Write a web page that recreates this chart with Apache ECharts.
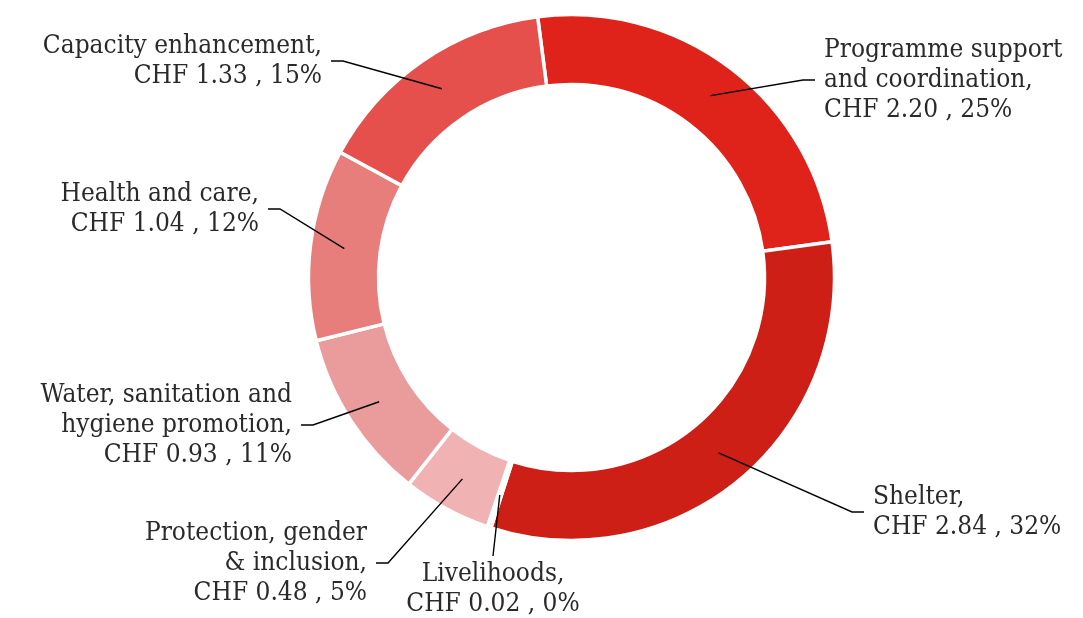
<!DOCTYPE html>
<html>
<head>
<meta charset="utf-8">
<script src="https://cdn.jsdelivr.net/npm/echarts@6/dist/echarts.min.js"></script>
<style>
  html, body { margin: 0; padding: 0; background: #ffffff; }
  #chart { width: 1083px; height: 618px; }
</style>
</head>
<body>
<div id="chart"></div>
<script>
// Budget breakdown by area of focus (CHF millions)
const categories = [
  'Programme support and coordination',
  'Shelter',
  'Livelihoods',
  'Protection, gender & inclusion',
  'Water, sanitation and hygiene promotion',
  'Health and care',
  'Capacity enhancement'
];
// Category names as they are broken over lines in the labels
const labelNames = [
  ['Programme support', 'and coordination,'],
  ['Shelter,'],
  ['Livelihoods,'],
  ['Protection, gender', '& inclusion,'],
  ['Water, sanitation and', 'hygiene promotion,'],
  ['Health and care,'],
  ['Capacity enhancement,']
];
const amounts = [2.20, 2.84, 0.02, 0.48, 0.93, 1.04, 1.33];

// Slice colours
const sliceColors = ['#df231a', '#cd1f16', '#c81d15', '#f0b2b2', '#ea9b9b', '#e87e7c', '#e54f4c'];

// Label placement: elbow of each leader line and the side the text sits on
const labelAnchors = [
  { elbow: [803, 80],  side: 'right' },
  { elbow: [852, 512], side: 'right' },
  { elbow: [493, 556], side: 'below' },
  { elbow: [388, 563], side: 'left' },
  { elbow: [313, 425], side: 'left' },
  { elbow: [280, 209], side: 'left' },
  { elbow: [343, 61],  side: 'left' }
];

const CENTER = [571.5, 277.5];
const START_ANGLE = 97.4;
const LINE_START_R = 229;   // leader lines begin mid-ring
const TAIL = 12;
const GAP = 9;

const total = amounts.reduce((s, v) => s + v, 0);

const ringData = categories.map((name, i) => ({
  name: name,
  value: amounts[i],
  itemStyle: { color: sliceColors[i] }
}));

const labelData = categories.map((name, i) => ({
  name: name,
  value: amounts[i]
}));

// Start point of a leader line, on the mid-angle of its slice
function midPoint(i) {
  let before = 0;
  for (let k = 0; k < i; k++) before += amounts[k];
  const mid = before + amounts[i] / 2;
  const ang = (START_ANGLE - mid / total * 360) * Math.PI / 180;
  return [CENTER[0] + LINE_START_R * Math.cos(ang), CENTER[1] - LINE_START_R * Math.sin(ang)];
}

const chart = echarts.init(document.getElementById('chart'), null, { renderer: 'canvas' });

chart.setOption({
  backgroundColor: '#ffffff',
  animation: false,
  series: [
    {
      type: 'pie',
      z: 2,
      center: CENTER,
      radius: [193, 263],
      startAngle: START_ANGLE,
      clockwise: true,
      silent: true,
      label: { show: false },
      labelLine: { show: false },
      itemStyle: { borderColor: '#ffffff', borderWidth: 3.5 },
      data: ringData
    },
    {
      // transparent overlay carrying the labels and leader lines
      type: 'pie',
      z: 6,
      center: CENTER,
      radius: [0, LINE_START_R],
      startAngle: START_ANGLE,
      clockwise: true,
      silent: true,
      avoidLabelOverlap: false,
      itemStyle: { color: 'rgba(0,0,0,0)' },
      label: {
        show: true,
        position: 'outside',
        fontFamily: '"DejaVu Serif Condensed", "DejaVu Serif", serif',
        fontSize: 26,
        lineHeight: 30,
        color: '#2a2a2a',
        formatter: function (p) {
          const i = p.dataIndex;
          const pct = Math.round(amounts[i] / total * 100);
          return labelNames[i].join('\n') + '\n' +
            'CHF ' + amounts[i].toFixed(2) + ' , ' + pct + '%';
        }
      },
      labelLine: {
        show: true,
        length: 40,
        length2: 12,
        lineStyle: { color: '#000000', width: 1.4 }
      },
      labelLayout: function (params) {
        const i = params.dataIndex;
        const a = labelAnchors[i];
        const p0 = midPoint(i);
        const e = a.elbow;
        if (a.side === 'below') {
          return {
            x: e[0], y: e[1] + 3,
            align: 'center', verticalAlign: 'top',
            labelLinePoints: [p0, e, e]
          };
        }
        const dir = a.side === 'right' ? 1 : -1;
        const tailEnd = [e[0] + dir * TAIL, e[1]];
        return {
          x: tailEnd[0] + dir * GAP,
          y: e[1],
          align: a.side === 'right' ? 'left' : 'right',
          verticalAlign: 'middle',
          labelLinePoints: [p0, e, tailEnd]
        };
      },
      data: labelData
    }
  ]
});
</script>
</body>
</html>
